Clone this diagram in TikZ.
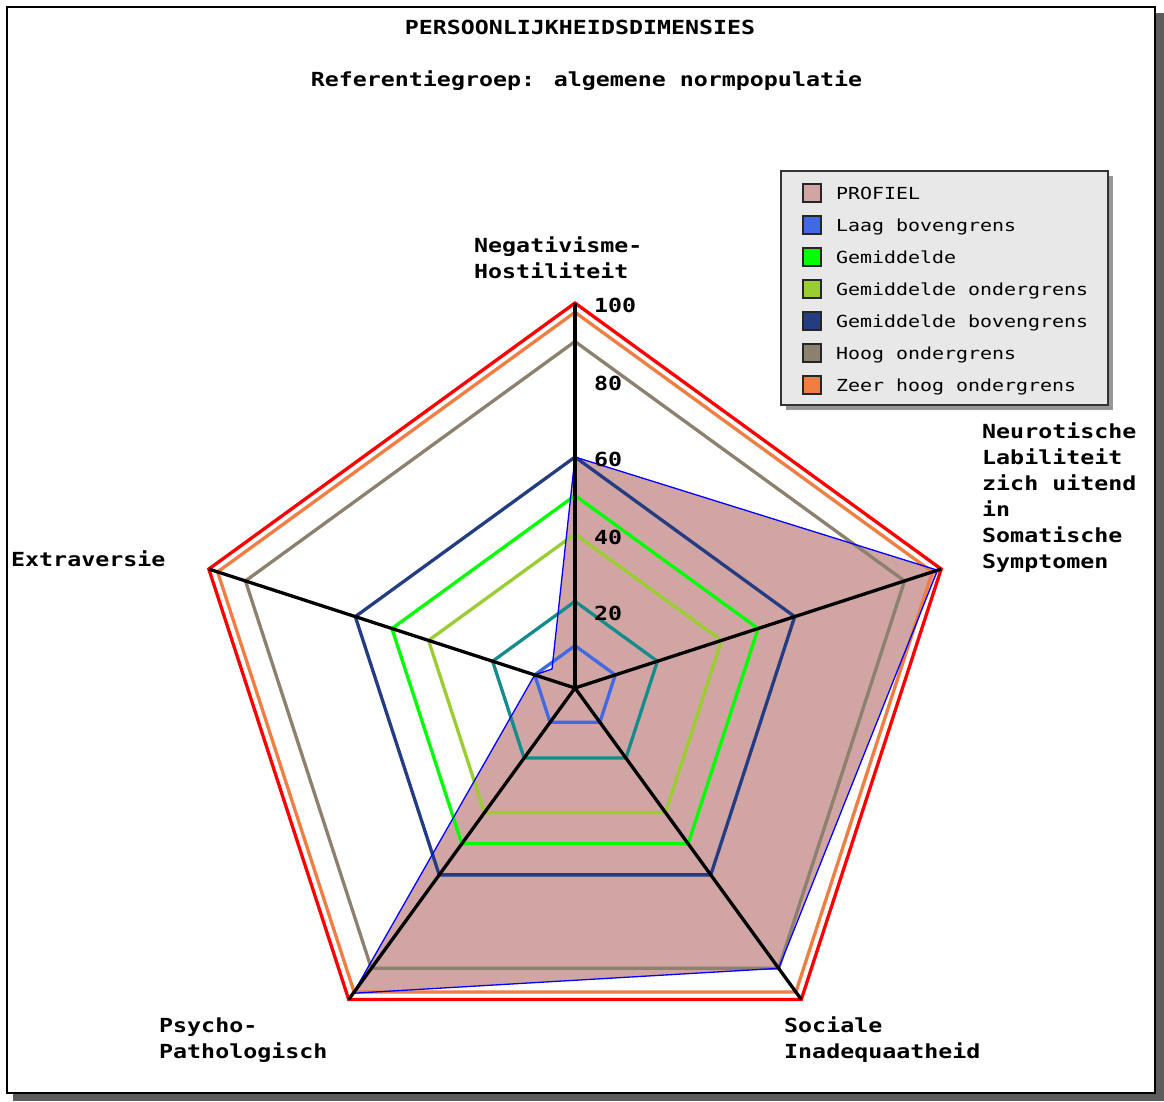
\documentclass[tikz,border=0pt]{standalone}
\usepackage{fontspec}
\newfontfamily\monofam[FakeStretch=1.2]{DejaVu Sans Mono}
\definecolor{cRed}{RGB}{255,0,0}
\definecolor{cOrange}{RGB}{240,125,65}
\definecolor{cBrown}{RGB}{140,128,110}
\definecolor{cDarkBlue}{RGB}{35,60,130}
\definecolor{cGreen}{RGB}{0,255,0}
\definecolor{cYellowGreen}{RGB}{154,205,50}
\definecolor{cTeal}{RGB}{20,140,140}
\definecolor{cRoyal}{RGB}{65,105,225}
\definecolor{cProfile}{RGB}{210,165,165}
\definecolor{cLegBg}{RGB}{232,232,232}
\definecolor{cShadow}{RGB}{92,92,92}
\definecolor{cLegShadow}{RGB}{150,150,150}
\tikzset{
  lbl/.style={font=\monofam\bfseries\fontsize{19.4}{26}\selectfont, anchor=base west, inner sep=0pt},
  ttl/.style={font=\monofam\bfseries\fontsize{19.4}{26}\selectfont, anchor=base, inner sep=0pt},
  leg/.style={font=\monofam\fontsize{16.6}{20}\selectfont, anchor=base west, inner sep=0pt},
  swatch/.style={draw=black!85, line width=1.5pt, minimum size=18pt, inner sep=0pt},
  pent/.style={line width=3.3pt},
  axisline/.style={line width=3.3pt, black},
}
\begin{document}
\begin{tikzpicture}[x=1pt,y=-1pt]
\useasboundingbox (0,0) rectangle (1164,1101);
\fill[white] (0,0) rectangle (1164,1101);
% outer frame with shadow
\fill[cShadow] (13,13) rectangle (1164,1101);
\draw[line width=2pt, fill=white] (7,7) rectangle (1155,1093);

\def\cx{575}\def\cy{688}\def\R{385}
\coordinate (c) at (\cx,\cy);
\foreach \v/\n in {100/rd,97.6/or,90/br,60/db,50/gr,40/yg,22.5/te,11/lb}{
  \foreach \a/\i in {90/1,18/2,-54/3,-126/4,162/5}{
    \coordinate (\n\i) at ({\cx+\R*(\v/100)*cos(\a)},{\cy-\R*(\v/100)*sin(\a)});
  }
}
% profile points
\coordinate (p1) at ({\cx+\R*0.60*cos(90)},{\cy-\R*0.60*sin(90)});
\coordinate (p2) at ({\cx+\R*0.99*cos(18)},{\cy-\R*0.99*sin(18)});
\coordinate (p3) at ({\cx+\R*0.90*cos(-54)},{\cy-\R*0.90*sin(-54)});
\coordinate (p4) at ({\cx+\R*0.98*cos(-126)},{\cy-\R*0.98*sin(-126)});
\coordinate (p5) at ({\cx+\R*0.11*cos(162)},{\cy-\R*0.11*sin(162)});
\coordinate (pk) at (552,669);

\fill[cProfile] (p1) -- (p2) -- (p3) -- (p4) -- (p5) -- (pk) -- cycle;

% reference pentagons
\draw[pent, cRed] (rd1) -- (rd2) -- (rd3) -- (rd4) -- (rd5) -- cycle;
\draw[pent, cOrange] (or1) -- (or2) -- (or3) -- (or4) -- (or5) -- cycle;
\draw[pent, cBrown] (br1) -- (br2) -- (br3) -- (br4) -- (br5) -- cycle;
\draw[pent, cDarkBlue] (db1) -- (db2) -- (db3) -- (db4) -- (db5) -- cycle;
\draw[pent, cGreen] (gr1) -- (gr2) -- (gr3) -- (gr4) -- (gr5) -- cycle;
\draw[pent, cYellowGreen] (yg1) -- (yg2) -- (yg3) -- (yg4) -- (yg5) -- cycle;
\draw[pent, cTeal] (te1) -- (te2) -- (te3) -- (te4) -- (te5) -- cycle;
\draw[pent, cRoyal] (lb1) -- (lb2) -- (lb3) -- (lb4) -- (lb5) -- cycle;

% profile outline
\draw[blue, line width=1.3pt] (p1) -- (p2) -- (p3) -- (p4) -- (p5) -- (pk) -- cycle;

% axes
\foreach \i in {1,...,5}{ \draw[axisline] (c) -- (rd\i); }

% tick labels
\node[lbl] (t100) at (594,312) {100};
\node[lbl] (t80) at (594,390) {80};
\node[lbl] (t60) at (594,466) {60};
\node[lbl] (t40) at (594,544) {40};
\node[lbl] (t20) at (594,620) {20};

% titles
\node[ttl] (title) at (580,34) {PERSOONLIJKHEIDSDIMENSIES};
\node[ttl] (subtitle) at (586.5,86) {Referentiegroep: algemene normpopulatie};

% axis labels
\node[lbl] (nh1) at (474,252) {Negativisme-};
\node[lbl] (nh2) at (474,278) {Hostiliteit};
\node[lbl] (nl1) at (982,438) {Neurotische};
\node[lbl] (nl2) at (982,464) {Labiliteit};
\node[lbl] (nl3) at (982,490) {zich uitend};
\node[lbl] (nl4) at (982,516) {in};
\node[lbl] (nl5) at (982,542) {Somatische};
\node[lbl] (nl6) at (982,568) {Symptomen};
\node[lbl] (ex) at (11,566) {Extraversie};
\node[lbl] (pp1) at (159,1032) {Psycho-};
\node[lbl] (pp2) at (159,1058) {Pathologisch};
\node[lbl] (si1) at (784,1032) {Sociale};
\node[lbl] (si2) at (784,1058) {Inadequaatheid};

% legend
\fill[cLegShadow] (786,176) rectangle (1113,410);
\draw[line width=2pt, draw=black!80, fill=cLegBg] (781,171) rectangle (1108,405);
\foreach \t/\col/\k in {PROFIEL/cProfile/0, Laag bovengrens/cRoyal/1, Gemiddelde/cGreen/2, Gemiddelde ondergrens/cYellowGreen/3, Gemiddelde bovengrens/cDarkBlue/4, Hoog ondergrens/cBrown/5, Zeer hoog ondergrens/cOrange/6}{
  \node[swatch, fill=\col] (sw\k) at (812,{193+32*\k}) {};
  \node[leg] (lt\k) at (836,{199+32*\k}) {\t};
}
\end{tikzpicture}
\end{document}
